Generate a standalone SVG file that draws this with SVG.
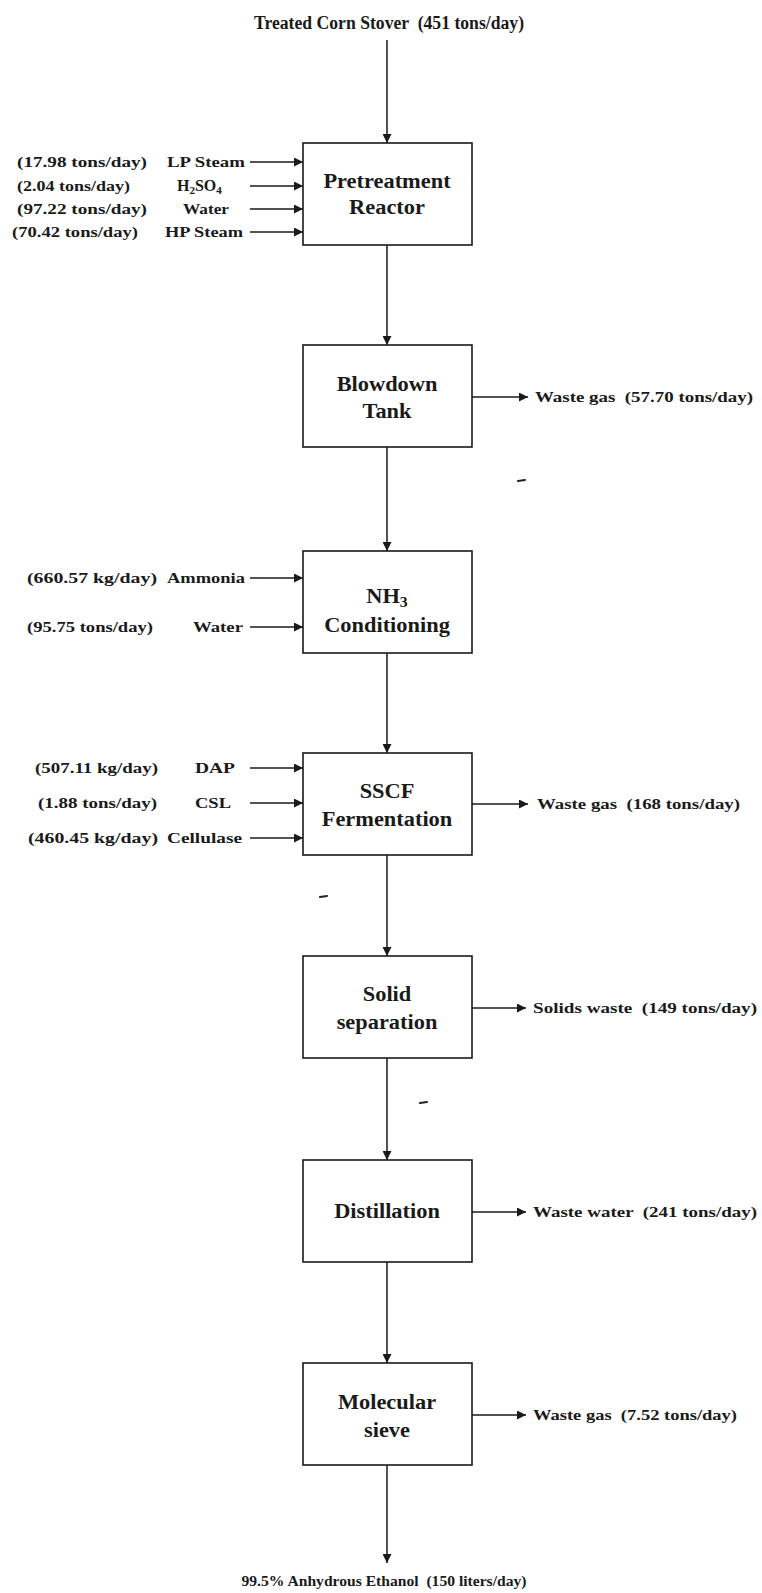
<svg xmlns="http://www.w3.org/2000/svg" width="762" height="1593" viewBox="0 0 762 1593">
  <style>
    .bg { fill: #ffffff; }
    .box { fill: #ffffff; stroke: #1a1a1a; stroke-width: 1.6; }
    .flow { fill: none; stroke: #1a1a1a; stroke-width: 1.5; }
    .blk { fill: #1a1a1a; font-family: "Liberation Serif", "Times New Roman", serif; font-weight: bold; }
    .nodetext { font-size: 20px; text-anchor: middle; }
    .lbl { font-size: 15px; }
    .lbl text { white-space: pre; }
    .speck { stroke: #222; stroke-width: 2; stroke-linecap: round; }
  </style>
  <defs>
    <marker id="arrow" viewBox="0 0 10 10" refX="10" refY="5" markerWidth="11" markerHeight="9" markerUnits="userSpaceOnUse" orient="auto">
      <path d="M0,0 L10,5 L0,10 Z" fill="#1a1a1a"/>
    </marker>
  </defs>
  <rect class="bg" x="0" y="0" width="762" height="1593"/>

  <!-- connectors -->
  <g id="connectors" class="flow" marker-end="url(#arrow)">
    <!-- main line -->
    <line x1="387" y1="40" x2="387" y2="143"/>
    <line x1="387" y1="245" x2="387" y2="345"/>
    <line x1="387" y1="447" x2="387" y2="551"/>
    <line x1="387" y1="653" x2="387" y2="753"/>
    <line x1="387" y1="855" x2="387" y2="956"/>
    <line x1="387" y1="1058" x2="387" y2="1160"/>
    <line x1="387" y1="1262" x2="387" y2="1363"/>
    <line x1="387" y1="1465" x2="387" y2="1563"/>
    <!-- pretreatment feeds -->
    <line x1="250" y1="162" x2="303" y2="162"/>
    <line x1="250" y1="186" x2="303" y2="186"/>
    <line x1="250" y1="209" x2="303" y2="209"/>
    <line x1="250" y1="232" x2="303" y2="232"/>
    <!-- conditioning feeds -->
    <line x1="250" y1="578" x2="303" y2="578"/>
    <line x1="250" y1="627" x2="303" y2="627"/>
    <!-- fermentation feeds -->
    <line x1="250" y1="768" x2="303" y2="768"/>
    <line x1="250" y1="803" x2="303" y2="803"/>
    <line x1="250" y1="838" x2="303" y2="838"/>
    <!-- outlets -->
    <line x1="472" y1="397" x2="528" y2="397"/>
    <line x1="472" y1="804" x2="528" y2="804"/>
    <line x1="472" y1="1008" x2="526" y2="1008"/>
    <line x1="472" y1="1212" x2="526" y2="1212"/>
    <line x1="472" y1="1415" x2="526" y2="1415"/>
  </g>

  <!-- units -->
  <g id="pretreatment">
    <rect class="box" x="303" y="143" width="169" height="102"/>
    <text class="blk nodetext" transform="translate(387,188) scale(1.12,1)">Pretreatment</text>
    <text class="blk nodetext" transform="translate(387,214) scale(1.12,1)">Reactor</text>
  </g>
  <g id="blowdown">
    <rect class="box" x="303" y="345" width="169" height="102"/>
    <text class="blk nodetext" transform="translate(387,391) scale(1.12,1)">Blowdown</text>
    <text class="blk nodetext" transform="translate(387,418) scale(1.12,1)">Tank</text>
  </g>
  <g id="conditioning">
    <rect class="box" x="303" y="551" width="169" height="102"/>
    <text class="blk nodetext" transform="translate(387,603) scale(1.12,1)">NH<tspan font-size="14" dy="4">3</tspan></text>
    <text class="blk nodetext" transform="translate(387,632) scale(1.12,1)">Conditioning</text>
  </g>
  <g id="fermentation">
    <rect class="box" x="303" y="753" width="169" height="102"/>
    <text class="blk nodetext" transform="translate(387,798) scale(1.12,1)">SSCF</text>
    <text class="blk nodetext" transform="translate(387,826) scale(1.12,1)">Fermentation</text>
  </g>
  <g id="separation">
    <rect class="box" x="303" y="956" width="169" height="102"/>
    <text class="blk nodetext" transform="translate(387,1001) scale(1.12,1)">Solid</text>
    <text class="blk nodetext" transform="translate(387,1029) scale(1.12,1)">separation</text>
  </g>
  <g id="distillation">
    <rect class="box" x="303" y="1160" width="169" height="102"/>
    <text class="blk nodetext" transform="translate(387,1218) scale(1.12,1)">Distillation</text>
  </g>
  <g id="sieve">
    <rect class="box" x="303" y="1363" width="169" height="102"/>
    <text class="blk nodetext" transform="translate(387,1409) scale(1.12,1)">Molecular</text>
    <text class="blk nodetext" transform="translate(387,1437) scale(1.12,1)">sieve</text>
  </g>

  <!-- feed and product streams -->
  <g id="stream-labels" class="blk lbl">
    <text xml:space="preserve" x="389" y="29" font-size="18" text-anchor="middle" textLength="270" lengthAdjust="spacingAndGlyphs">Treated Corn Stover  (451 tons/day)</text>

    <text x="17" y="167" textLength="130" lengthAdjust="spacingAndGlyphs">(17.98 tons/day)</text>
    <text x="167" y="167" textLength="78" lengthAdjust="spacingAndGlyphs">LP Steam</text>
    <text x="17" y="191" textLength="113" lengthAdjust="spacingAndGlyphs">(2.04 tons/day)</text>
    <text x="177" y="191" font-size="16">H<tspan font-size="11" dy="3">2</tspan><tspan dy="-3">SO</tspan><tspan font-size="11" dy="3">4</tspan></text>
    <text x="17" y="214" textLength="130" lengthAdjust="spacingAndGlyphs">(97.22 tons/day)</text>
    <text x="183" y="214" textLength="46" lengthAdjust="spacingAndGlyphs">Water</text>
    <text x="12" y="237" textLength="126" lengthAdjust="spacingAndGlyphs">(70.42 tons/day)</text>
    <text x="165" y="237" textLength="78" lengthAdjust="spacingAndGlyphs">HP Steam</text>

    <text x="27" y="583" textLength="130" lengthAdjust="spacingAndGlyphs">(660.57 kg/day)</text>
    <text x="167" y="583" textLength="78" lengthAdjust="spacingAndGlyphs">Ammonia</text>
    <text x="27" y="632" textLength="126" lengthAdjust="spacingAndGlyphs">(95.75 tons/day)</text>
    <text x="193" y="632" textLength="50" lengthAdjust="spacingAndGlyphs">Water</text>

    <text x="35" y="773" textLength="123" lengthAdjust="spacingAndGlyphs">(507.11 kg/day)</text>
    <text x="195" y="773" textLength="40" lengthAdjust="spacingAndGlyphs">DAP</text>
    <text x="38" y="808" textLength="119" lengthAdjust="spacingAndGlyphs">(1.88 tons/day)</text>
    <text x="195" y="808" textLength="36" lengthAdjust="spacingAndGlyphs">CSL</text>
    <text x="28" y="843" textLength="130" lengthAdjust="spacingAndGlyphs">(460.45 kg/day)</text>
    <text x="167" y="843" textLength="75" lengthAdjust="spacingAndGlyphs">Cellulase</text>

    <text xml:space="preserve" x="535" y="402" textLength="218" lengthAdjust="spacingAndGlyphs">Waste gas  (57.70 tons/day)</text>
    <text xml:space="preserve" x="537" y="809" textLength="203" lengthAdjust="spacingAndGlyphs">Waste gas  (168 tons/day)</text>
    <text xml:space="preserve" x="533" y="1013" textLength="224" lengthAdjust="spacingAndGlyphs">Solids waste  (149 tons/day)</text>
    <text xml:space="preserve" x="533" y="1217" textLength="224" lengthAdjust="spacingAndGlyphs">Waste water  (241 tons/day)</text>
    <text xml:space="preserve" x="533" y="1420" textLength="204" lengthAdjust="spacingAndGlyphs">Waste gas  (7.52 tons/day)</text>

    <text xml:space="preserve" x="384" y="1586" text-anchor="middle" textLength="285" lengthAdjust="spacingAndGlyphs">99.5% Anhydrous Ethanol  (150 liters/day)</text>
  </g>

  <!-- small specks on the sheet -->
  <g id="specks" class="speck">
    <line x1="518" y1="481" x2="525" y2="480"/>
    <line x1="320" y1="897" x2="327" y2="896"/>
    <line x1="420" y1="1103" x2="427" y2="1102"/>
  </g>
</svg>
